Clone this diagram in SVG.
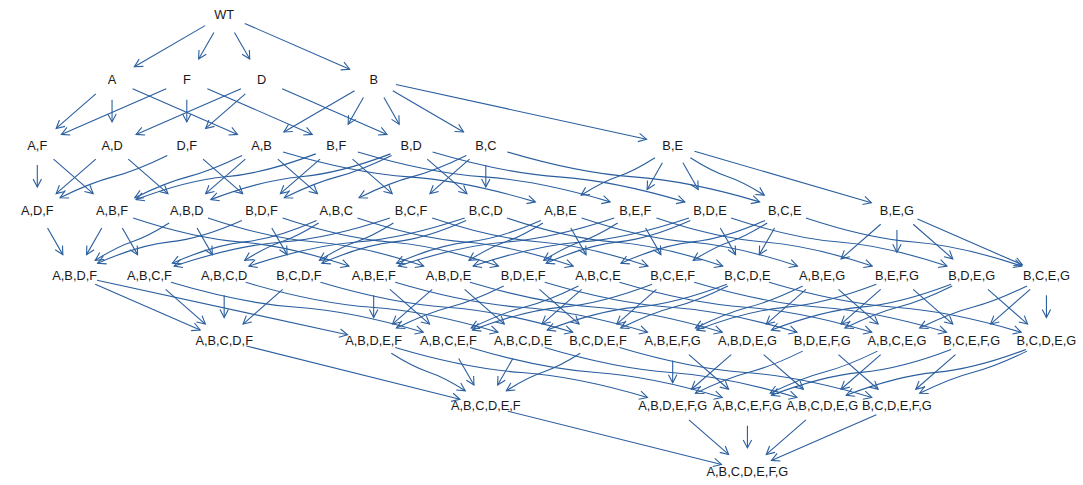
<svg xmlns="http://www.w3.org/2000/svg" width="1083" height="485" viewBox="0 0 1083 485">
<style>
.e{fill:none;stroke:#2a5e9e;stroke-width:1.1;marker-end:url(#ah)}
text{font-family:"Liberation Sans",Arial,Helvetica,sans-serif;font-size:12.8px;fill:#1a1a1a;text-anchor:middle}
</style>
<defs>
<marker id="ah" markerUnits="userSpaceOnUse" orient="auto" viewBox="-11 -6 13 12" markerWidth="13" markerHeight="12" refX="0" refY="0" overflow="visible">
<path d="M-8,-4.2 L0,0 L-8,4.2" fill="none" stroke="#2a5e9e" stroke-width="1.1"/>
</marker>
</defs>
<rect width="1083" height="485" fill="#ffffff"/>
<g id="edges">
<path class="e" d="M205.07 25.62 l -70.72 41.12"/>
<path class="e" d="M213.92 32.40 l -15.27 26.63"/>
<path class="e" d="M234.44 32.40 l 15.27 26.63"/>
<path class="e" d="M244.74 23.47 l 104.91 45.75"/>
<path class="e" d="M95.81 93.86 l -39.65 34.59"/>
<path class="e" d="M112.05 99.7 l 0 22.2"/>
<path class="e" d="M132.61 88.67 l 104.91 45.75"/>
<path class="e" d="M166.24 88.67 l -104.91 45.75"/>
<path class="e" d="M186.80 99.7 l 0 22.2"/>
<path class="e" d="M207.36 88.67 l 104.91 45.75"/>
<path class="e" d="M240.99 88.67 l -104.91 45.75"/>
<path class="e" d="M245.31 93.86 l -39.65 34.59"/>
<path class="e" d="M282.11 88.67 l 104.91 45.75"/>
<path class="e" d="M354.57 90.82 l -70.72 41.12"/>
<path class="e" d="M363.42 97.60 l -15.27 26.63"/>
<path class="e" d="M383.94 97.60 l 15.27 26.63"/>
<path class="e" d="M392.79 90.82 l 70.72 41.12"/>
<path class="e" d="M395.99 84.57 l 250.53 54.63"/>
<path class="e" d="M37.30 164.9 l 0 22.2"/>
<path class="e" d="M53.54 159.06 l 39.65 34.59"/>
<path class="e" d="M95.81 159.06 l -39.65 34.59"/>
<path class="e" d="M128.29 159.06 l 39.65 34.59"/>
<path class="e" d="M167.32 155.52 c -17.88 8.79 -35.76 16.52 -53.64 21.09 s -35.76 12.30 -53.64 21.09"/>
<path class="e" d="M203.04 159.06 l 39.65 34.59"/>
<path class="e" d="M242.07 155.52 c -17.88 8.79 -35.76 16.52 -53.64 21.09 s -35.76 12.30 -53.64 21.09"/>
<path class="e" d="M245.31 159.06 l -39.65 34.59"/>
<path class="e" d="M277.79 159.06 l 39.65 34.59"/>
<path class="e" d="M283.08 151.94 c 42.05 12.48 84.09 22.05 126.14 24.96 s 84.09 12.48 126.14 24.96"/>
<path class="e" d="M315.74 153.87 c -29.94 11.44 -59.89 20.21 -89.83 22.88 s -59.89 11.44 -89.83 22.88"/>
<path class="e" d="M320.06 159.06 l -39.65 34.59"/>
<path class="e" d="M352.54 159.06 l 39.65 34.59"/>
<path class="e" d="M357.83 151.94 c 42.05 12.48 84.09 22.05 126.14 24.96 s 84.09 12.48 126.14 24.96"/>
<path class="e" d="M390.49 153.87 c -29.94 11.44 -59.89 20.21 -89.83 22.88 s -59.89 11.44 -89.83 22.88"/>
<path class="e" d="M391.57 155.52 c -17.88 8.79 -35.76 16.52 -53.64 21.09 s -35.76 12.30 -53.64 21.09"/>
<path class="e" d="M427.29 159.06 l 39.65 34.59"/>
<path class="e" d="M432.58 151.94 c 42.05 12.48 84.09 22.05 126.14 24.96 s 84.09 12.48 126.14 24.96"/>
<path class="e" d="M466.32 155.52 c -17.88 8.79 -35.76 16.52 -53.64 21.09 s -35.76 12.30 -53.64 21.09"/>
<path class="e" d="M469.56 159.06 l -39.65 34.59"/>
<path class="e" d="M485.80 164.9 l 0 22.2"/>
<path class="e" d="M507.33 151.94 c 42.05 12.48 84.09 22.05 126.14 24.96 s 84.09 12.48 126.14 24.96"/>
<path class="e" d="M655.04 157.72 c -12.33 7.80 -24.65 14.67 -36.98 18.73 s -24.65 10.92 -36.98 18.73"/>
<path class="e" d="M662.42 162.80 l -15.27 26.63"/>
<path class="e" d="M682.94 162.80 l 15.27 26.63"/>
<path class="e" d="M690.32 157.72 c 12.33 7.80 24.65 14.67 36.98 18.73 s 24.65 10.92 36.98 18.73"/>
<path class="e" d="M694.49 151.24 l 176.88 51.43"/>
<path class="e" d="M47.56 228.0 l 15.27 26.63"/>
<path class="e" d="M101.79 228.0 l -15.27 26.63"/>
<path class="e" d="M122.31 228.0 l 15.27 26.63"/>
<path class="e" d="M133.18 218.0 c 35.96 12.02 71.93 21.23 107.89 24.03 s 71.93 12.01 107.89 24.03"/>
<path class="e" d="M169.16 222.92 c -12.33 7.80 -24.65 14.67 -36.98 18.73 s -24.65 10.92 -36.98 18.73"/>
<path class="e" d="M197.06 228.0 l 15.27 26.63"/>
<path class="e" d="M207.93 218.0 c 35.96 12.02 71.93 21.23 107.89 24.03 s 71.93 12.01 107.89 24.03"/>
<path class="e" d="M241.84 220.41 c -24.03 10.71 -48.06 18.93 -72.09 21.43 s -48.06 10.72 -72.09 21.43"/>
<path class="e" d="M271.81 228.0 l 15.27 26.63"/>
<path class="e" d="M282.68 218.0 c 35.96 12.02 71.93 21.23 107.89 24.03 s 71.93 12.01 107.89 24.03"/>
<path class="e" d="M316.59 220.41 c -24.03 10.71 -48.06 18.93 -72.09 21.43 s -48.06 10.72 -72.09 21.43"/>
<path class="e" d="M318.66 222.92 c -12.33 7.80 -24.65 14.67 -36.98 18.73 s -24.65 10.92 -36.98 18.73"/>
<path class="e" d="M357.43 218.0 c 35.96 12.02 71.93 21.23 107.89 24.03 s 71.93 12.01 107.89 24.03"/>
<path class="e" d="M389.92 218.0 c -35.96 12.02 -71.93 21.23 -107.89 24.03 s -71.93 12.01 -107.89 24.03"/>
<path class="e" d="M393.41 222.92 c -12.33 7.80 -24.65 14.67 -36.98 18.73 s -24.65 10.92 -36.98 18.73"/>
<path class="e" d="M432.18 218.0 c 35.96 12.02 71.93 21.23 107.89 24.03 s 71.93 12.01 107.89 24.03"/>
<path class="e" d="M464.67 218.0 c -35.96 12.02 -71.93 21.23 -107.89 24.03 s -71.93 12.01 -107.89 24.03"/>
<path class="e" d="M466.09 220.41 c -24.03 10.71 -48.06 18.93 -72.09 21.43 s -48.06 10.72 -72.09 21.43"/>
<path class="e" d="M506.93 218.0 c 35.96 12.02 71.93 21.23 107.89 24.03 s 71.93 12.01 107.89 24.03"/>
<path class="e" d="M540.84 220.41 c -24.03 10.71 -48.06 18.93 -72.09 21.43 s -48.06 10.72 -72.09 21.43"/>
<path class="e" d="M542.91 222.92 c -12.33 7.80 -24.65 14.67 -36.98 18.73 s -24.65 10.92 -36.98 18.73"/>
<path class="e" d="M570.81 228.0 l 15.27 26.63"/>
<path class="e" d="M581.68 218.0 c 35.96 12.02 71.93 21.23 107.89 24.03 s 71.93 12.01 107.89 24.03"/>
<path class="e" d="M614.17 218.0 c -35.96 12.02 -71.93 21.23 -107.89 24.03 s -71.93 12.01 -107.89 24.03"/>
<path class="e" d="M617.66 222.92 c -12.33 7.80 -24.65 14.67 -36.98 18.73 s -24.65 10.92 -36.98 18.73"/>
<path class="e" d="M645.56 228.0 l 15.27 26.63"/>
<path class="e" d="M656.43 218.0 c 35.96 12.02 71.93 21.23 107.89 24.03 s 71.93 12.01 107.89 24.03"/>
<path class="e" d="M688.92 218.0 c -35.96 12.02 -71.93 21.23 -107.89 24.03 s -71.93 12.01 -107.89 24.03"/>
<path class="e" d="M690.34 220.41 c -24.03 10.71 -48.06 18.93 -72.09 21.43 s -48.06 10.72 -72.09 21.43"/>
<path class="e" d="M720.31 228.0 l 15.27 26.63"/>
<path class="e" d="M731.18 218.0 c 35.96 12.02 71.93 21.23 107.89 24.03 s 71.93 12.01 107.89 24.03"/>
<path class="e" d="M765.09 220.41 c -24.03 10.71 -48.06 18.93 -72.09 21.43 s -48.06 10.72 -72.09 21.43"/>
<path class="e" d="M767.16 222.92 c -12.33 7.80 -24.65 14.67 -36.98 18.73 s -24.65 10.92 -36.98 18.73"/>
<path class="e" d="M774.54 228.0 l -15.27 26.63"/>
<path class="e" d="M805.93 218.0 c 35.96 12.02 71.93 21.23 107.89 24.03 s 71.93 12.01 107.89 24.03"/>
<path class="e" d="M880.69 224.26 l -39.65 34.59"/>
<path class="e" d="M896.93 230.1 l 0 22.2"/>
<path class="e" d="M913.17 224.26 l 39.65 34.59"/>
<path class="e" d="M917.49 219.07 l 104.91 45.75"/>
<path class="e" d="M95.24 284.27 l 104.91 45.75"/>
<path class="e" d="M96.99 280.17 l 250.53 54.63"/>
<path class="e" d="M165.67 289.46 l 39.65 34.59"/>
<path class="e" d="M170.96 282.34 c 42.05 12.48 84.09 22.05 126.14 24.96 s 84.09 12.48 126.14 24.96"/>
<path class="e" d="M224.18 295.3 l 0 22.2"/>
<path class="e" d="M245.71 282.34 c 42.05 12.48 84.09 22.05 126.14 24.96 s 84.09 12.48 126.14 24.96"/>
<path class="e" d="M282.69 289.46 l -39.65 34.59"/>
<path class="e" d="M320.46 282.34 c 42.05 12.48 84.09 22.05 126.14 24.96 s 84.09 12.48 126.14 24.96"/>
<path class="e" d="M373.68 295.3 l 0 22.2"/>
<path class="e" d="M389.92 289.46 l 39.65 34.59"/>
<path class="e" d="M395.21 282.34 c 42.05 12.48 84.09 22.05 126.14 24.96 s 84.09 12.48 126.14 24.96"/>
<path class="e" d="M432.19 289.46 l -39.65 34.59"/>
<path class="e" d="M464.67 289.46 l 39.65 34.59"/>
<path class="e" d="M469.96 282.34 c 42.05 12.48 84.09 22.05 126.14 24.96 s 84.09 12.48 126.14 24.96"/>
<path class="e" d="M503.70 285.92 c -17.88 8.79 -35.76 16.52 -53.64 21.09 s -35.76 12.30 -53.64 21.09"/>
<path class="e" d="M539.42 289.46 l 39.65 34.59"/>
<path class="e" d="M544.71 282.34 c 42.05 12.48 84.09 22.05 126.14 24.96 s 84.09 12.48 126.14 24.96"/>
<path class="e" d="M578.45 285.92 c -17.88 8.79 -35.76 16.52 -53.64 21.09 s -35.76 12.30 -53.64 21.09"/>
<path class="e" d="M581.69 289.46 l -39.65 34.59"/>
<path class="e" d="M619.46 282.34 c 42.05 12.48 84.09 22.05 126.14 24.96 s 84.09 12.48 126.14 24.96"/>
<path class="e" d="M652.12 284.27 c -29.94 11.44 -59.89 20.21 -89.83 22.88 s -59.89 11.44 -89.83 22.88"/>
<path class="e" d="M656.44 289.46 l -39.65 34.59"/>
<path class="e" d="M694.21 282.34 c 42.05 12.48 84.09 22.05 126.14 24.96 s 84.09 12.48 126.14 24.96"/>
<path class="e" d="M726.87 284.27 c -29.94 11.44 -59.89 20.21 -89.83 22.88 s -59.89 11.44 -89.83 22.88"/>
<path class="e" d="M727.95 285.92 c -17.88 8.79 -35.76 16.52 -53.64 21.09 s -35.76 12.30 -53.64 21.09"/>
<path class="e" d="M768.96 282.34 c 42.05 12.48 84.09 22.05 126.14 24.96 s 84.09 12.48 126.14 24.96"/>
<path class="e" d="M802.70 285.92 c -17.88 8.79 -35.76 16.52 -53.64 21.09 s -35.76 12.30 -53.64 21.09"/>
<path class="e" d="M805.94 289.46 l -39.65 34.59"/>
<path class="e" d="M838.42 289.46 l 39.65 34.59"/>
<path class="e" d="M876.37 284.27 c -29.94 11.44 -59.89 20.21 -89.83 22.88 s -59.89 11.44 -89.83 22.88"/>
<path class="e" d="M880.69 289.46 l -39.65 34.59"/>
<path class="e" d="M913.17 289.46 l 39.65 34.59"/>
<path class="e" d="M951.12 284.27 c -29.94 11.44 -59.89 20.21 -89.83 22.88 s -59.89 11.44 -89.83 22.88"/>
<path class="e" d="M952.20 285.92 c -17.88 8.79 -35.76 16.52 -53.64 21.09 s -35.76 12.30 -53.64 21.09"/>
<path class="e" d="M987.92 289.46 l 39.65 34.59"/>
<path class="e" d="M1026.95 285.92 c -17.88 8.79 -35.76 16.52 -53.64 21.09 s -35.76 12.30 -53.64 21.09"/>
<path class="e" d="M1030.19 289.46 l -39.65 34.59"/>
<path class="e" d="M1046.43 295.3 l 0 22.2"/>
<path class="e" d="M246.29 346.01 l 213.6 53.23"/>
<path class="e" d="M391.32 353.32 c 12.33 7.80 24.65 14.67 36.98 18.73 s 24.65 10.92 36.98 18.73"/>
<path class="e" d="M395.21 347.54 c 42.05 12.48 84.09 22.05 126.14 24.96 s 84.09 12.48 126.14 24.96"/>
<path class="e" d="M458.69 358.4 l 15.27 26.63"/>
<path class="e" d="M469.96 347.54 c 42.05 12.48 84.09 22.05 126.14 24.96 s 84.09 12.48 126.14 24.96"/>
<path class="e" d="M512.92 358.4 l -15.27 26.63"/>
<path class="e" d="M544.71 347.54 c 42.05 12.48 84.09 22.05 126.14 24.96 s 84.09 12.48 126.14 24.96"/>
<path class="e" d="M580.29 353.32 c -12.33 7.80 -24.65 14.67 -36.98 18.73 s -24.65 10.92 -36.98 18.73"/>
<path class="e" d="M619.46 347.54 c 42.05 12.48 84.09 22.05 126.14 24.96 s 84.09 12.48 126.14 24.96"/>
<path class="e" d="M672.68 360.5 l 0 22.2"/>
<path class="e" d="M688.92 354.66 l 39.65 34.59"/>
<path class="e" d="M731.19 354.66 l -39.65 34.59"/>
<path class="e" d="M763.67 354.66 l 39.65 34.59"/>
<path class="e" d="M802.70 351.12 c -17.88 8.79 -35.76 16.52 -53.64 21.09 s -35.76 12.30 -53.64 21.09"/>
<path class="e" d="M838.42 354.66 l 39.65 34.59"/>
<path class="e" d="M877.45 351.12 c -17.88 8.79 -35.76 16.52 -53.64 21.09 s -35.76 12.30 -53.64 21.09"/>
<path class="e" d="M880.69 354.66 l -39.65 34.59"/>
<path class="e" d="M951.12 349.47 c -29.94 11.44 -59.89 20.21 -89.83 22.88 s -59.89 11.44 -89.83 22.88"/>
<path class="e" d="M955.44 354.66 l -39.65 34.59"/>
<path class="e" d="M1025.87 349.47 c -29.94 11.44 -59.89 20.21 -89.83 22.88 s -59.89 11.44 -89.83 22.88"/>
<path class="e" d="M1026.95 351.12 c -17.88 8.79 -35.76 16.52 -53.64 21.09 s -35.76 12.30 -53.64 21.09"/>
<path class="e" d="M507.91 411.21 l 213.6 53.23"/>
<path class="e" d="M688.92 419.86 l 39.65 34.59"/>
<path class="e" d="M747.43 425.7 l 0 22.2"/>
<path class="e" d="M805.94 419.86 l -39.65 34.59"/>
<path class="e" d="M876.37 414.67 l -104.91 45.75"/>
</g>
<g id="nodes">
<g id="n_WT"><text x="224.18" y="19.1">WT</text></g>
<g id="n_A"><text x="112.05" y="84.3">A</text></g>
<g id="n_F"><text x="186.80" y="84.3">F</text></g>
<g id="n_D"><text x="261.55" y="84.3">D</text></g>
<g id="n_B"><text x="373.68" y="84.3">B</text></g>
<g id="n_A_F"><text x="37.30" y="149.5">A,F</text></g>
<g id="n_A_D"><text x="112.05" y="149.5">A,D</text></g>
<g id="n_D_F"><text x="186.80" y="149.5">D,F</text></g>
<g id="n_A_B"><text x="261.55" y="149.5">A,B</text></g>
<g id="n_B_F"><text x="336.30" y="149.5">B,F</text></g>
<g id="n_B_D"><text x="411.05" y="149.5">B,D</text></g>
<g id="n_B_C"><text x="485.80" y="149.5">B,C</text></g>
<g id="n_B_E"><text x="672.68" y="149.5">B,E</text></g>
<g id="n_A_D_F"><text x="37.30" y="214.7">A,D,F</text></g>
<g id="n_A_B_F"><text x="112.05" y="214.7">A,B,F</text></g>
<g id="n_A_B_D"><text x="186.80" y="214.7">A,B,D</text></g>
<g id="n_B_D_F"><text x="261.55" y="214.7">B,D,F</text></g>
<g id="n_A_B_C"><text x="336.30" y="214.7">A,B,C</text></g>
<g id="n_B_C_F"><text x="411.05" y="214.7">B,C,F</text></g>
<g id="n_B_C_D"><text x="485.80" y="214.7">B,C,D</text></g>
<g id="n_A_B_E"><text x="560.55" y="214.7">A,B,E</text></g>
<g id="n_B_E_F"><text x="635.30" y="214.7">B,E,F</text></g>
<g id="n_B_D_E"><text x="710.05" y="214.7">B,D,E</text></g>
<g id="n_B_C_E"><text x="784.80" y="214.7">B,C,E</text></g>
<g id="n_B_E_G"><text x="896.93" y="214.7">B,E,G</text></g>
<g id="n_A_B_D_F"><text x="74.68" y="279.9">A,B,D,F</text></g>
<g id="n_A_B_C_F"><text x="149.43" y="279.9">A,B,C,F</text></g>
<g id="n_A_B_C_D"><text x="224.18" y="279.9">A,B,C,D</text></g>
<g id="n_B_C_D_F"><text x="298.93" y="279.9">B,C,D,F</text></g>
<g id="n_A_B_E_F"><text x="373.68" y="279.9">A,B,E,F</text></g>
<g id="n_A_B_D_E"><text x="448.43" y="279.9">A,B,D,E</text></g>
<g id="n_B_D_E_F"><text x="523.18" y="279.9">B,D,E,F</text></g>
<g id="n_A_B_C_E"><text x="597.93" y="279.9">A,B,C,E</text></g>
<g id="n_B_C_E_F"><text x="672.68" y="279.9">B,C,E,F</text></g>
<g id="n_B_C_D_E"><text x="747.43" y="279.9">B,C,D,E</text></g>
<g id="n_A_B_E_G"><text x="822.18" y="279.9">A,B,E,G</text></g>
<g id="n_B_E_F_G"><text x="896.93" y="279.9">B,E,F,G</text></g>
<g id="n_B_D_E_G"><text x="971.68" y="279.9">B,D,E,G</text></g>
<g id="n_B_C_E_G"><text x="1046.43" y="279.9">B,C,E,G</text></g>
<g id="n_A_B_C_D_F"><text x="224.18" y="345.1">A,B,C,D,F</text></g>
<g id="n_A_B_D_E_F"><text x="373.68" y="345.1">A,B,D,E,F</text></g>
<g id="n_A_B_C_E_F"><text x="448.43" y="345.1">A,B,C,E,F</text></g>
<g id="n_A_B_C_D_E"><text x="523.18" y="345.1">A,B,C,D,E</text></g>
<g id="n_B_C_D_E_F"><text x="597.93" y="345.1">B,C,D,E,F</text></g>
<g id="n_A_B_E_F_G"><text x="672.68" y="345.1">A,B,E,F,G</text></g>
<g id="n_A_B_D_E_G"><text x="747.43" y="345.1">A,B,D,E,G</text></g>
<g id="n_B_D_E_F_G"><text x="822.18" y="345.1">B,D,E,F,G</text></g>
<g id="n_A_B_C_E_G"><text x="896.93" y="345.1">A,B,C,E,G</text></g>
<g id="n_B_C_E_F_G"><text x="971.68" y="345.1">B,C,E,F,G</text></g>
<g id="n_B_C_D_E_G"><text x="1046.43" y="345.1">B,C,D,E,G</text></g>
<g id="n_A_B_C_D_E_F"><text x="485.80" y="410.3">A,B,C,D,E,F</text></g>
<g id="n_A_B_D_E_F_G"><text x="672.68" y="410.3">A,B,D,E,F,G</text></g>
<g id="n_A_B_C_E_F_G"><text x="747.43" y="410.3">A,B,C,E,F,G</text></g>
<g id="n_A_B_C_D_E_G"><text x="822.18" y="410.3">A,B,C,D,E,G</text></g>
<g id="n_B_C_D_E_F_G"><text x="896.93" y="410.3">B,C,D,E,F,G</text></g>
<g id="n_A_B_C_D_E_F_G"><text x="747.43" y="475.5">A,B,C,D,E,F,G</text></g>
</g>
</svg>
